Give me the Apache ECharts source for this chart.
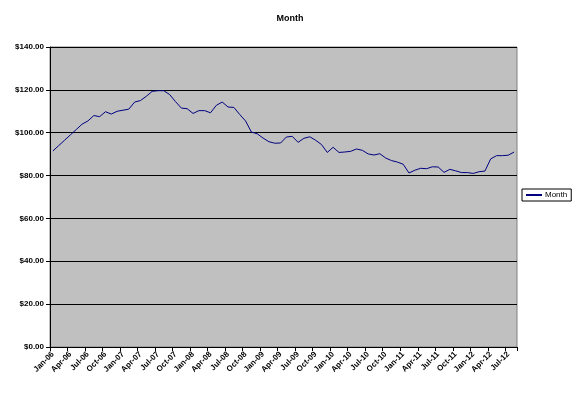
<!DOCTYPE html>
<html>
<head>
<meta charset="utf-8">
<script src="https://cdn.jsdelivr.net/npm/echarts@6/dist/echarts.min.js"></script>
<style>
html, body { margin: 0; padding: 0; background: #fff; }
#chart { width: 577px; height: 394px; }
</style>
</head>
<body>
<div id="chart"></div>
<script>
// monthly categories Jan-06 .. Aug-12
var categories = [
	"Jan-06","Feb-06","Mar-06","Apr-06","May-06","Jun-06","Jul-06","Aug-06","Sep-06","Oct-06","Nov-06","Dec-06",
	"Jan-07","Feb-07","Mar-07","Apr-07","May-07","Jun-07","Jul-07","Aug-07","Sep-07","Oct-07","Nov-07","Dec-07",
	"Jan-08","Feb-08","Mar-08","Apr-08","May-08","Jun-08","Jul-08","Aug-08","Sep-08","Oct-08","Nov-08","Dec-08",
	"Jan-09","Feb-09","Mar-09","Apr-09","May-09","Jun-09","Jul-09","Aug-09","Sep-09","Oct-09","Nov-09","Dec-09",
	"Jan-10","Feb-10","Mar-10","Apr-10","May-10","Jun-10","Jul-10","Aug-10","Sep-10","Oct-10","Nov-10","Dec-10",
	"Jan-11","Feb-11","Mar-11","Apr-11","May-11","Jun-11","Jul-11","Aug-11","Sep-11","Oct-11","Nov-11","Dec-11",
	"Jan-12","Feb-12","Mar-12","Apr-12","May-12","Jun-12","Jul-12","Aug-12"
];

var monthValues = [
	91.5, 94, 96.5, 99, 101.5, 104, 105.5, 108, 107.5, 109.8, 108.7, 110,
	110.5, 111, 114.3, 115, 117, 119.3, 119.6, 119.6, 117.8, 114.5, 111.5, 111.2,
	109, 110.3, 110.3, 109.3, 112.8, 114.3, 112, 111.8, 108.5, 105.5, 100.3, 99.5,
	97.5, 95.8, 95.1, 95.2, 98, 98.3, 95.5, 97.4, 98.1, 96.5, 94.5, 90.8,
	93.2, 90.8, 91, 91.3, 92.4, 91.8, 90.1, 89.6, 90.2, 88.2, 87, 86.3,
	85.3, 81.2, 82.5, 83.4, 83.2, 84.1, 84, 81.5, 82.9, 82.2, 81.4, 81.4,
	81, 81.8, 82.1, 87.8, 89.3, 89.3, 89.5, 91
];

var yMin = 0, yMax = 140, yStep = 20;

var font = "'Liberation Sans', Arial, sans-serif";

var chart = echarts.init(document.getElementById("chart"));
chart.setOption({
	animation: false,
	backgroundColor: "#ffffff",
	title: {
		text: "Month",
		left: 285,
		textAlign: "center",
		top: 9,
		textStyle: { fontFamily: font, fontSize: 9, fontWeight: "bold", color: "#000" }
	},
	legend: {
		data: ["Month"],
		orient: "vertical",
		left: 522,
		top: 189,
		padding: [2, 4, 2, 4],
		borderColor: "#000",
		borderWidth: 1,
		backgroundColor: "#fff",
		itemWidth: 16,
		itemHeight: 2,
		itemGap: 0,
		icon: "rect",
		textStyle: { fontFamily: font, fontSize: 8, color: "#000", padding: [0, 0, 0, -2] }
	},
	grid: {
		left: 50,
		right: 60,
		top: 47,
		bottom: 47,
		show: true,
		backgroundColor: "#c0c0c0",
		borderColor: "#808080",
		borderWidth: 1
	},
	xAxis: {
		type: "category",
		data: categories,
		boundaryGap: true,
		axisLine: { show: true, lineStyle: { color: "#000", width: 1 } },
		axisTick: { show: true, interval: 2, length: 4, lineStyle: { color: "#000" } },
		axisLabel: {
			interval: 2,
			rotate: 45,
			margin: 6,
			fontFamily: font,
			fontSize: 8,
			fontWeight: "bold",
			color: "#000"
		},
		splitLine: { show: false }
	},
	yAxis: {
		type: "value",
		min: yMin,
		max: yMax,
		interval: yStep,
		axisLine: { show: true, lineStyle: { color: "#000", width: 1 } },
		axisTick: { show: true, length: 4, lineStyle: { color: "#000" } },
		axisLabel: {
			margin: 6,
			fontFamily: font,
			fontSize: 8,
			fontWeight: "bold",
			color: "#000",
			formatter: function(v) { return "$" + v.toFixed(2); }
		},
		splitLine: { show: true, lineStyle: { color: "#000", width: 1 } }
	},
	series: [{
		name: "Month",
		type: "line",
		data: monthValues,
		symbol: "none",
		lineStyle: { color: "#000080", width: 1 },
		itemStyle: { color: "#000080" }
	}]
});
</script>
</body>
</html>
